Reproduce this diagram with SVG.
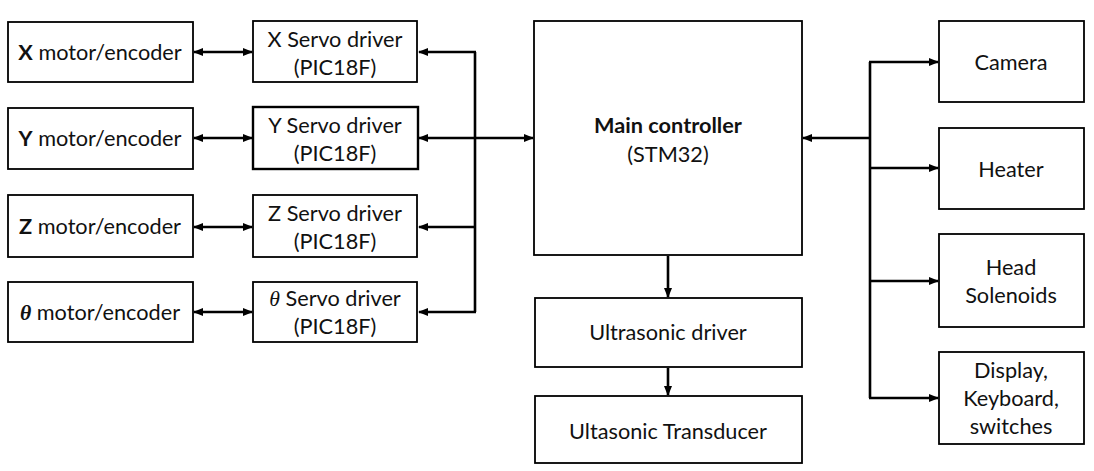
<svg xmlns="http://www.w3.org/2000/svg" width="1094" height="471" viewBox="0 0 1094 471">
<style>
.box{fill:#fff;stroke:#000;stroke-width:1.8}
.t{font-family:Lato,"Liberation Sans",sans-serif;font-size:21.7px;fill:#111;text-anchor:middle}
.b{font-weight:bold}
.th{font-family:"Liberation Serif",serif;font-style:italic}
.c{fill:none;stroke:#000;stroke-width:2.6}
</style>
<defs>
<marker id="ah" markerUnits="userSpaceOnUse" markerWidth="10" markerHeight="10" viewBox="0 0 10 10" refX="9" refY="5" orient="auto-start-reverse">
<path d="M0,1 L10,5 L0,9 Z" fill="#000"/>
</marker>
</defs>
<rect width="1094" height="471" fill="#fff"/>
<g id="connectors">
<line class="c" x1="194" y1="52" x2="252" y2="52" marker-start="url(#ah)" marker-end="url(#ah)"/>
<line class="c" x1="194" y1="138" x2="252" y2="138" marker-start="url(#ah)" marker-end="url(#ah)"/>
<line class="c" x1="194" y1="227" x2="252" y2="227" marker-start="url(#ah)" marker-end="url(#ah)"/>
<line class="c" x1="194" y1="312" x2="252" y2="312" marker-start="url(#ah)" marker-end="url(#ah)"/>
<polyline class="c" points="475,52 475,312"/>
<line class="c" x1="476" y1="52" x2="419" y2="52" marker-end="url(#ah)"/>
<line class="c" x1="476" y1="138" x2="419" y2="138" marker-end="url(#ah)"/>
<line class="c" x1="476" y1="227" x2="419" y2="227" marker-end="url(#ah)"/>
<line class="c" x1="476" y1="312" x2="419" y2="312" marker-end="url(#ah)"/>
<line class="c" x1="475" y1="138" x2="533" y2="138" marker-end="url(#ah)"/>
<line class="c" x1="668" y1="256" x2="668" y2="297" marker-end="url(#ah)"/>
<line class="c" x1="668" y1="368" x2="668" y2="395" marker-end="url(#ah)"/>
<polyline class="c" points="870,62 870,398"/>
<line class="c" x1="870" y1="138" x2="803" y2="138" marker-end="url(#ah)"/>
<line class="c" x1="869" y1="62" x2="938" y2="62" marker-end="url(#ah)"/>
<line class="c" x1="869" y1="168" x2="938" y2="168" marker-end="url(#ah)"/>
<line class="c" x1="869" y1="281" x2="938" y2="281" marker-end="url(#ah)"/>
<line class="c" x1="869" y1="398" x2="938" y2="398" marker-end="url(#ah)"/>
</g>
<g id="x-motor"><rect class="box" x="8" y="22" width="185" height="60"/><text class="t" x="100" y="60"><tspan class="b">X</tspan> motor/encoder</text></g>
<g id="y-motor"><rect class="box" x="8" y="108" width="185" height="61"/><text class="t" x="100" y="146"><tspan class="b">Y</tspan> motor/encoder</text></g>
<g id="z-motor"><rect class="box" x="8" y="195" width="185" height="62"/><text class="t" x="100" y="234"><tspan class="b">Z</tspan> motor/encoder</text></g>
<g id="theta-motor"><rect class="box" x="8" y="282" width="185" height="60"/><text class="t" x="100" y="320"><tspan class="th b">θ</tspan> motor/encoder</text></g>
<g id="x-servo"><rect class="box" x="253" y="21" width="164" height="61"/><text class="t" x="335" y="47">X Servo driver</text><text class="t" x="335" y="75">(PIC18F)</text></g>
<g id="y-servo"><rect class="box" x="253" y="107" width="165" height="62" style="stroke-width:2.4"/><text class="t" x="335" y="133">Y Servo driver</text><text class="t" x="335" y="161">(PIC18F)</text></g>
<g id="z-servo"><rect class="box" x="253" y="195" width="164" height="62"/><text class="t" x="335" y="221">Z Servo driver</text><text class="t" x="335" y="249">(PIC18F)</text></g>
<g id="theta-servo"><rect class="box" x="253" y="282" width="164" height="60"/><text class="t" x="335" y="306"><tspan class="th">θ</tspan> Servo driver</text><text class="t" x="335" y="334">(PIC18F)</text></g>
<g id="main"><rect class="box" x="534" y="21" width="268" height="234"/><text class="t b" x="668" y="133">Main controller</text><text class="t" x="668" y="162">(STM32)</text></g>
<g id="us-driver"><rect class="box" x="535" y="298" width="267" height="69"/><text class="t" x="668" y="340">Ultrasonic driver</text></g>
<g id="us-transducer"><rect class="box" x="535" y="396" width="267" height="67"/><text class="t" x="668" y="439">Ultasonic Transducer</text></g>
<g id="camera"><rect class="box" x="939" y="21" width="145" height="81"/><text class="t" x="1011" y="70">Camera</text></g>
<g id="heater"><rect class="box" x="939" y="128" width="145" height="81"/><text class="t" x="1011" y="177">Heater</text></g>
<g id="solenoids"><rect class="box" x="939" y="234" width="145" height="93"/><text class="t" x="1011" y="275">Head</text><text class="t" x="1011" y="303">Solenoids</text></g>
<g id="display"><rect class="box" x="939" y="352" width="145" height="92"/><text class="t" x="1011" y="378">Display,</text><text class="t" x="1011" y="406">Keyboard,</text><text class="t" x="1011" y="434">switches</text></g>
</svg>
